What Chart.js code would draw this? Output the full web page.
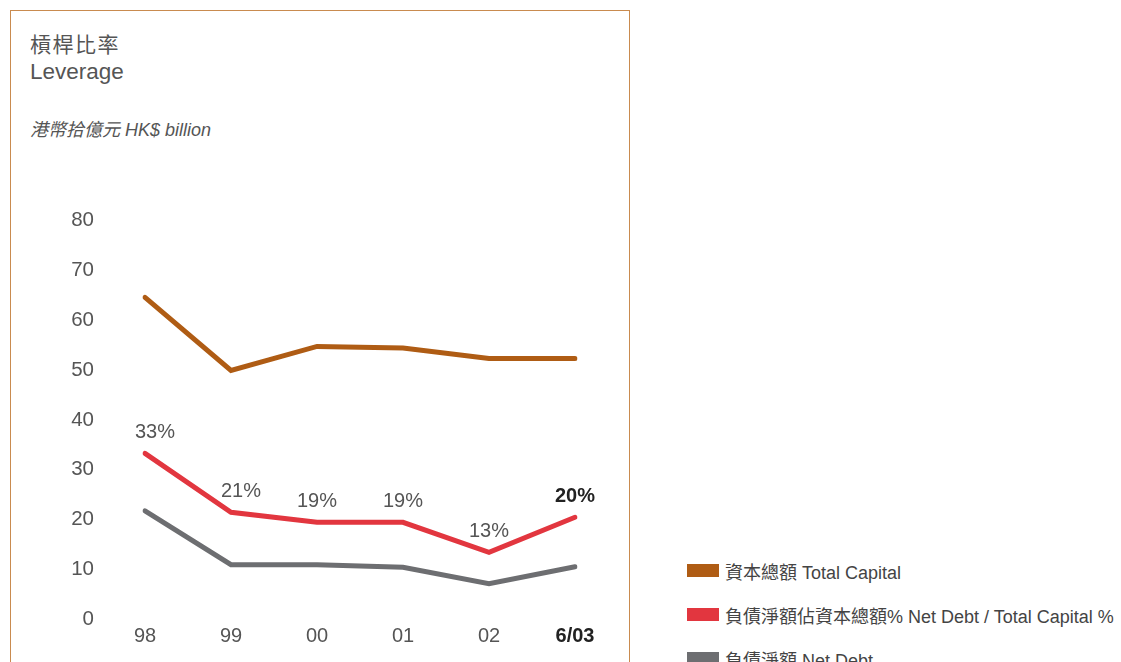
<!DOCTYPE html>
<html><head><meta charset="utf-8">
<script src="https://cdn.jsdelivr.net/npm/chart.js@4/dist/chart.umd.min.js"></script>
<style>
html,body{margin:0;padding:0;background:#fff;width:1121px;height:662px;overflow:hidden;}
body{font-family:"Liberation Sans","Noto Sans CJK TC",sans-serif;color:#555;position:relative;}
#box{position:absolute;left:10px;top:10px;width:620px;height:700px;border:1.5px solid #C98B4F;box-sizing:border-box;}
#wrap{position:absolute;left:0;top:0;width:640px;height:683px;}
.t1{position:absolute;left:30px;top:28px;font-size:21px;letter-spacing:1.5px;}
.t2{position:absolute;left:30px;top:59px;font-size:22.5px;}
.t3{position:absolute;left:30px;top:115px;font-size:18px;font-style:italic;}
#legend{position:absolute;left:687px;top:558px;}
.li{position:relative;height:44px;font-size:18px;color:#444;white-space:nowrap;}
.sw{position:absolute;left:0;top:6px;width:32px;height:13px;}
.lt{position:absolute;left:38px;top:0;}
</style></head>
<body>
<div id="box"></div>
<div class="t1">槓桿比率</div>
<div class="t2">Leverage</div>
<div class="t3">港幣拾億元 HK$ billion</div>
<div id="wrap"><canvas id="c" width="640" height="683"></canvas></div>
<div id="legend"></div>
<script>
const categories = ['98','99','00','01','02','6/03'];
const totalCapital = [64.5, 49.9, 54.7, 54.4, 52.3, 52.3];
const netDebtPct = [33.3, 21.5, 19.5, 19.5, 13.5, 20.5];
const netDebtPctLabels = ['33%','21%','19%','19%','13%','20%'];
const netDebt = [21.8, 11.0, 11.0, 10.5, 7.2, 10.6];
const yTicks = [0,10,20,30,40,50,60,70,80];
const seriesNames = ['資本總額 Total Capital','負債淨額佔資本總額% Net Debt / Total Capital %','負債淨額 Net Debt'];
const colors = ['#AF5C14','#E2363F','#6D6E71'];

const FONT = '"Liberation Sans","Noto Sans CJK TC",sans-serif';

const pctLabelPlugin = {
  id:'pctLabels',
  afterDatasetsDraw(chart){
    const ctx = chart.ctx;
    const meta = chart.getDatasetMeta(1);
    ctx.save();
    ctx.textAlign='center';
    ctx.textBaseline='middle';
    meta.data.forEach((pt,i)=>{
      const last = i===netDebtPctLabels.length-1;
      ctx.font = (last?'bold ':'')+'20px '+FONT;
      ctx.fillStyle = last ? '#222' : '#555';
      ctx.fillText(netDebtPctLabels[i], pt.x+(i<2?10:0), pt.y-21);
    });
    ctx.restore();
  }
};

const chart = new Chart(document.getElementById('c'),{
  type:'line',
  data:{
    labels:categories,
    datasets:[
      {label:seriesNames[0],data:totalCapital,borderColor:colors[0],backgroundColor:colors[0]},
      {label:seriesNames[1],data:netDebtPct,borderColor:colors[1],backgroundColor:colors[1]},
      {label:seriesNames[2],data:netDebt,borderColor:colors[2],backgroundColor:colors[2]}
    ].map(d=>Object.assign(d,{borderWidth:5,pointRadius:0,tension:0,borderCapStyle:'round',borderJoinStyle:'miter',fill:false}))
  },
  options:{
    responsive:false,animation:false,
    events:[],
    layout:{padding:{top:220,right:65,bottom:0,left:0}},
    plugins:{legend:{display:false},tooltip:{enabled:false}},
    scales:{
      x:{
        grid:{display:false,drawTicks:false},border:{display:false},
        afterFit(s){s.height=42;},
        ticks:{padding:5,maxRotation:0,autoSkip:false,
          font:(c)=>({family:FONT,size:20,weight:(c.index===categories.length-1)?'bold':'normal'}),
          color:(c)=>c.index===categories.length-1?'#222':'#555'}
      },
      y:{
        min:0,max:80,
        afterBuildTicks(s){s.ticks=yTicks.map(v=>({value:v}));},
        afterFit(s){s.width=145;},
        grid:{display:false,drawTicks:false},border:{display:false},
        ticks:{color:'#555',padding:51,font:{family:FONT,size:20.5}}
      }
    }
  },
  plugins:[pctLabelPlugin]
});

const lg = document.getElementById('legend');
seriesNames.forEach((n,i)=>{
  const d=document.createElement('div');d.className='li';
  d.innerHTML='<span class="sw" style="background:'+colors[i]+'"></span><span class="lt"></span>';
  d.querySelector('.lt').textContent=n;
  lg.appendChild(d);
});
</script>
</body></html>
